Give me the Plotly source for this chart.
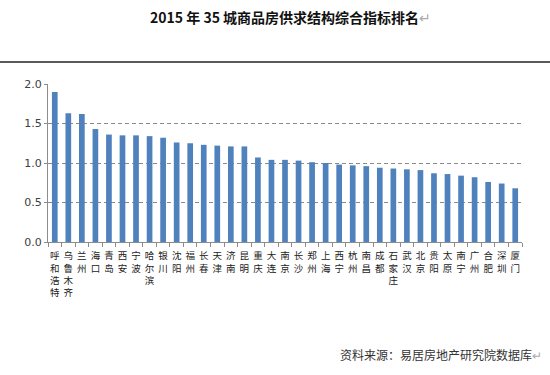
import plotly.graph_objects as go

cities = ["呼和浩特", "乌鲁木齐", "兰州", "海口", "青岛", "西安", "宁波", "哈尔滨", "银川",
          "沈阳", "福州", "长春", "天津", "济南", "昆明", "重庆", "大连", "南京", "长沙",
          "郑州", "上海", "西宁", "杭州", "南昌", "成都", "石家庄", "武汉", "北京", "贵阳",
          "太原", "南宁", "广州", "合肥", "深圳", "厦门"]
values = [1.90, 1.63, 1.62, 1.43, 1.36, 1.35, 1.35, 1.34, 1.32,
          1.26, 1.25, 1.23, 1.22, 1.21, 1.21, 1.07, 1.04, 1.04, 1.03,
          1.01, 1.00, 0.98, 0.97, 0.96, 0.94, 0.93, 0.92, 0.91, 0.87,
          0.86, 0.84, 0.82, 0.76, 0.74, 0.68]
y_ticks = [0.0, 0.5, 1.0, 1.5, 2.0]
title_text = "2015 年 35 城商品房供求结构综合指标排名"
source_text = "资料来源：易居房地产研究院数据库"

W, H = 550, 375
L, R, T, B = 48, 28, 84, 133
pw, ph = W - L - R, H - T - B


def px(x):
    return (x - L) / pw


def py(y):
    return (H - B - y) / ph


CJK = "Noto Sans CJK SC, sans-serif"

fig = go.Figure(go.Bar(
    x=cities, y=values,
    marker=dict(color="#4F81BD", line=dict(width=0)),
))

fig.update_layout(
    width=W, height=H,
    margin=dict(l=L, r=R, t=T, b=B),
    paper_bgcolor="white", plot_bgcolor="white",
    bargap=0.58,
    showlegend=False,
    font=dict(family=CJK, color="#333333"),
)

fig.update_xaxes(
    type="category",
    tickvals=cities,
    ticktext=["<br>".join(list(c)) for c in cities],
    tickangle=0,
    tickfont=dict(size=9.5, color="#222222", family=CJK),
    ticklabelstandoff=5,
    showline=True, linecolor="#8c8c8c", linewidth=1,
    ticks="outside", ticklen=4, tickcolor="#8c8c8c", tickson="boundaries",
    showgrid=False, zeroline=False, automargin=False,
)

fig.update_yaxes(
    range=[0, 2.0],
    tickvals=y_ticks,
    tickformat=".1f",
    tickfont=dict(size=11, color="#404040", family="DejaVu Sans, sans-serif"),
    showline=True, linecolor="#8c8c8c", linewidth=1,
    ticks="outside", ticklen=3, tickcolor="#8c8c8c",
    showgrid=True, gridcolor="#8a8a8a", griddash="4px,3px", gridwidth=1,
    zeroline=False, automargin=False,
)

fig.add_annotation(
    xref="paper", yref="paper", x=px(290), y=py(17),
    xanchor="center", yanchor="middle", showarrow=False,
    text="<b>" + title_text + "</b><span style='color:#aaaaaa'>↵</span>",
    font=dict(size=14, color="#111111", family=CJK),
)

fig.add_shape(
    type="line", xref="paper", yref="paper",
    x0=px(0), x1=px(W), y0=py(62), y1=py(62),
    line=dict(color="#222222", width=1.5),
)

fig.add_annotation(
    xref="paper", yref="paper", x=px(338), y=py(354),
    xanchor="left", yanchor="middle", showarrow=False,
    text=source_text + "<span style='color:#aaaaaa'>↵</span>",
    font=dict(size=12, color="#333333", family=CJK),
)

fig.write_html("out.html", config={"displayModeBar": False},
               post_script="document.body.style.margin='0';")
